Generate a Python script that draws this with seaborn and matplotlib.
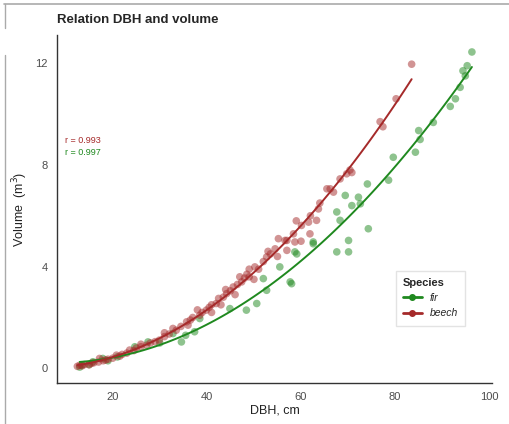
import numpy as np
import pandas as pd
import matplotlib
matplotlib.use("Agg")
import matplotlib.pyplot as plt
from matplotlib.lines import Line2D
import seaborn as sns

# beech measurements (DBH in cm, volume in m3)
beech_dbh = [12.5, 13, 13.5, 14, 15, 15.5, 16, 17, 17.2, 18, 18.5, 19, 20, 20.8,
             21.5, 22, 23, 23.6, 24.5, 25, 26, 27.2, 28, 29, 29.9, 31, 32, 32.8,
             33.5, 34.5, 35.7, 36.5, 37, 38.5, 39, 39.9, 40.5, 41, 42, 42.5, 43.5,
             44.2, 45, 45.6, 46.5, 47.4, 48, 48.5, 49, 50.2, 51, 52, 52.7, 53.5,
             54.5, 55.2, 56.6, 57, 57, 58.4, 58.7, 60.1, 61.6, 61.9, 63.3, 63.7,
             65.5, 66.2, 66.9, 68.3, 69.7, 70.4, 70.8, 76.8, 77.4, 80.2, 83.5,
             26, 31, 36, 38, 41, 43, 44, 46, 47, 49, 50, 53, 55, 59, 60, 62, 64]
beech_vol = [0.08, 0.12, 0.1, 0.15, 0.14, 0.2, 0.22, 0.25, 0.39, 0.3, 0.33, 0.36,
             0.4, 0.52, 0.48, 0.55, 0.6, 0.72, 0.7, 0.8, 0.85, 0.91, 1.0, 1.05,
             1.11, 1.25, 1.35, 1.57, 1.5, 1.65, 1.83, 1.9, 2.0, 2.09, 2.2, 2.29,
             2.4, 2.5, 2.55, 2.75, 2.8, 2.94, 3.05, 3.2, 3.3, 3.4, 3.55, 3.7, 3.6,
             3.99, 3.9, 4.2, 4.38, 4.5, 4.7, 5.1, 5.03, 4.64, 5.03, 5.29, 4.97,
             5.62, 5.75, 5.29, 5.82, 6.27, 7.06, 7.06, 6.93, 7.45, 7.65, 7.8, 7.7,
             9.7, 9.5, 10.6, 11.96,
             0.95, 1.4, 1.7, 2.3, 2.2, 2.5, 3.1, 2.9, 3.6, 3.9, 3.5, 4.6, 4.4,
             5.8, 5.0, 6.0, 6.5]

# fir measurements
fir_dbh = [13, 13.5, 15, 15.8, 17.9, 19, 21, 24.7, 27.5, 30, 32.8, 34.6, 35.5,
           37.4, 38.5, 44.9, 48.4, 50.6, 52, 52.7, 55.5, 57.7, 58, 58.7, 59.1,
           62.6, 62.6, 67.6, 67.6, 68.3, 69.4, 70.1, 70.1, 70.8, 72.2, 72.6,
           74.1, 74.3, 78.6, 79.6, 84.3, 85, 85.3, 88.1, 91.7, 92.8, 93.8, 94.4,
           94.9, 95.3, 96.3]
fir_vol = [0.05, 0.13, 0.15, 0.26, 0.39, 0.3, 0.45, 0.85, 1.04, 1.0, 1.37, 1.04,
           1.3, 1.44, 1.96, 2.35, 2.29, 2.55, 3.53, 3.07, 3.99, 3.4, 3.33, 4.58,
           4.5, 4.9, 4.97, 4.58, 6.15, 5.82, 6.8, 4.58, 5.03, 6.4, 6.73, 6.47,
           7.25, 5.49, 7.4, 8.3, 8.5, 9.35, 9.0, 9.67, 10.3, 10.6, 11.05, 11.7,
           11.5, 11.9, 12.44]

species = ["fir", "beech"]
r_labels = ["r = 0.993", "r = 0.997"]
colors = {"fir": "#1f891f", "beech": "#A52A2A"}

df = pd.concat([
    pd.DataFrame({"dbh": fir_dbh, "vol": fir_vol, "species": "fir"}),
    pd.DataFrame({"dbh": beech_dbh, "vol": beech_vol, "species": "beech"}),
])

sns.set_style("white")
plt.rcParams["font.family"] = ["Liberation Sans", "DejaVu Sans"]

fig = plt.figure(figsize=(5.1, 4.24), dpi=100)
ax = fig.add_axes([0.112, 0.097, 0.853, 0.82])

sns.scatterplot(data=df, x="dbh", y="vol", hue="species", palette=colors,
                alpha=0.5, s=30, edgecolor="none", legend=False, ax=ax)
for sp in species:
    sns.regplot(data=df[df.species == sp], x="dbh", y="vol", order=2,
                scatter=False, ci=None, color=colors[sp],
                line_kws={"lw": 1.4}, ax=ax)

ax.set_xlim(8.2, 100.6)
ax.set_ylim(-0.57, 13.1)
ax.set_xticks([20, 40, 60, 80, 100])
ax.set_yticks([0, 4, 8, 12])
ax.tick_params(axis="both", colors="#333333", labelcolor="#4d4d4d",
               labelsize=8, length=3, width=0.8, direction="out")
for side in ["top", "right"]:
    ax.spines[side].set_visible(False)
for side in ["left", "bottom"]:
    ax.spines[side].set_color("#333333")
    ax.spines[side].set_linewidth(1.0)
ax.set_xlabel("DBH, cm", fontsize=9, color="#222222", labelpad=2)
ax.set_ylabel("Volume  (m$^3$)", fontsize=9, color="#222222", labelpad=4)

ax.text(9.8, 8.95, r_labels[0], color=colors["beech"], fontsize=6.5, va="center")
ax.text(9.8, 8.5, r_labels[1], color=colors["fir"], fontsize=6.5, va="center")

handles = [Line2D([], [], color=colors[sp], marker="o", markersize=4, lw=2)
           for sp in species]
leg = ax.legend(handles, species, title="Species", loc="lower left",
                bbox_to_anchor=(0.766, 0.15), frameon=True, fancybox=False,
                edgecolor="#dddddd", fontsize=7.5, title_fontsize=8,
                handlelength=1.8, borderpad=0.7, labelspacing=0.5)
leg.get_title().set_fontweight("bold")
leg._legend_box.align = "left"
for t in leg.get_texts():
    t.set_fontstyle("italic")

fig.text(0.112, 0.953, "Relation DBH and volume", fontsize=9.5,
         fontweight="bold", va="center", ha="left")

# screenshot frame lines
fig.add_artist(Line2D([4 / 510, 1], [1 - 4 / 424, 1 - 4 / 424],
                      color="#aaaaaa", lw=1.2))
fig.add_artist(Line2D([5 / 510, 5 / 510], [1 - 4 / 424, 1 - 28 / 424],
                      color="#aaaaaa", lw=1.0))
fig.add_artist(Line2D([5 / 510, 5 / 510], [1 - 55 / 424, 0],
                      color="#aaaaaa", lw=1.0))

fig.savefig("out.png", dpi=100)
